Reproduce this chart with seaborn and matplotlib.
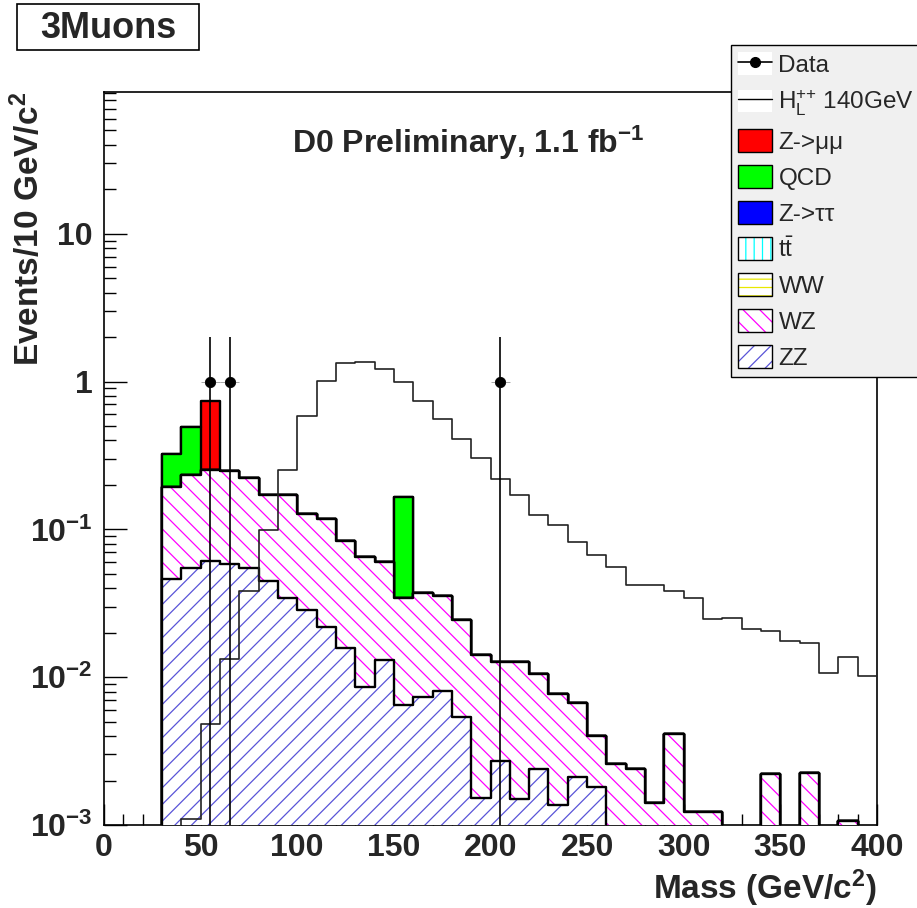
import numpy as np
import pandas as pd
import matplotlib
matplotlib.use("Agg")
import matplotlib.pyplot as plt
import seaborn as sns
from matplotlib.patches import Patch, Rectangle
from matplotlib.lines import Line2D

# ---------------- data (10 GeV bins, 0-400 GeV) ----------------
bin_edges = list(range(0, 410, 10))
bin_centers = [e + 5 for e in bin_edges[:-1]]

zz = [0, 0, 0, 0.0464, 0.0545, 0.061, 0.058, 0.0548, 0.0448, 0.0345,
      0.0285, 0.022, 0.0157, 0.0086, 0.013, 0.0065, 0.00736, 0.0081, 0.00542, 0.00152,
      0.0027, 0.0015, 0.00239, 0.00136, 0.00212, 0.0018, 0, 0, 0, 0,
      0, 0, 0, 0, 0, 0, 0, 0, 0, 0]
wz = [0, 0, 0, 0.148, 0.18, 0.191, 0.19, 0.167, 0.126, 0.137,
      0.0995, 0.095, 0.0677, 0.0568, 0.0475, 0.028, 0.0299, 0.0273, 0.019, 0.0126,
      0.0099, 0.0111, 0.0081, 0.0063, 0.0046, 0.0022, 0.00258, 0.00239, 0.00141, 0.00412,
      0.00122, 0.00122, 0, 0, 0.00221, 0, 0.00224, 0, 0.00107, 0]
ww = [0] * 40
ttbar = [0] * 40
ztautau = [0] * 40
qcd = [0, 0, 0, 0.131, 0.257, 0, 0, 0, 0, 0,
       0, 0, 0, 0, 0, 0.13, 0, 0, 0, 0,
       0, 0, 0, 0, 0, 0, 0, 0, 0, 0,
       0, 0, 0, 0, 0, 0, 0, 0, 0, 0]
zmumu = [0, 0, 0, 0, 0, 0.488, 0, 0, 0, 0,
         0, 0, 0, 0, 0, 0, 0, 0, 0, 0,
         0, 0, 0, 0, 0, 0, 0, 0, 0, 0,
         0, 0, 0, 0, 0, 0, 0, 0, 0, 0]
signal = [0, 0, 0, 0, 0.0011, 0.00486, 0.0132, 0.0381, 0.0985, 0.254,
          0.589, 1.01, 1.34, 1.36, 1.22, 1.00, 0.736, 0.554, 0.406, 0.302,
          0.218, 0.171, 0.126, 0.107, 0.082, 0.067, 0.0553, 0.0418, 0.0418, 0.0385,
          0.0343, 0.0247, 0.0253, 0.0211, 0.0205, 0.0177, 0.0171, 0.0106, 0.0137, 0.0102]

data_x = [55, 65, 205]
data_y = [1, 1, 1]
data_err_low = [1, 1, 1]
data_err_high = [1, 1, 1]

xtick_values = [0, 50, 100, 150, 200, 250, 300, 350, 400]
ytick_values = [1e-3, 1e-2, 1e-1, 1, 10]
ytick_labels = [r"$\mathbf{10^{-3}}$", r"$\mathbf{10^{-2}}$", r"$\mathbf{10^{-1}}$", "1", "10"]

legend_labels = ["Data", r"H$_{\rm L}^{{+}{+}}$ 140GeV", "Z->\u03bc\u03bc", "QCD", "Z->\u03c4\u03c4",
                 r"$\mathrm{t\bar{t}}$", "WW", "WZ", "ZZ"]

# ---------------- style ----------------
sns.set_theme(style="ticks")
plt.rcParams["font.family"] = ["Liberation Sans", "DejaVu Sans"]
plt.rcParams["mathtext.fontset"] = "custom"
plt.rcParams["mathtext.rm"] = "Liberation Sans"
plt.rcParams["mathtext.bf"] = "Liberation Sans:bold"
plt.rcParams["mathtext.it"] = "Liberation Sans:italic"
plt.rcParams["hatch.linewidth"] = 0.9
plt.rcParams["axes.unicode_minus"] = True

fig = plt.figure(figsize=(9.17, 9.08), dpi=100)
fig.patch.set_facecolor("white")
L, R, T, B = 104, 877, 92, 825
ax = fig.add_axes([L / 917, 1 - B / 908, (R - L) / 917, (B - T) / 908])
ax.set_facecolor("white")
ax.set_yscale("log")

# stacking order bottom -> top
components = [
    (zz, "white", "//", "#5954d8"),
    (wz, "white", "\\\\", "#ff00ff"),
    (ww, "white", "--", "#e8e800"),
    (ttbar, "white", "||", "#00ffff"),
    (ztautau, "#0000ff", None, "none"),
    (qcd, "#00ff00", None, "none"),
    (zmumu, "#ff0000", None, "none"),
]
cum = np.cumsum(np.array([c[0] for c in components], dtype=float), axis=0)

z = 2
for i in range(len(components) - 1, -1, -1):
    _, fc, hatch, hc = components[i]
    df = pd.DataFrame({"mass": bin_centers, "w": cum[i]})
    sns.histplot(data=df, x="mass", weights="w", bins=bin_edges, element="step",
                 fill=True, alpha=1, facecolor=fc, edgecolor=hc, linewidth=0,
                 hatch=hatch, zorder=z, ax=ax)
    sns.histplot(data=df, x="mass", weights="w", bins=bin_edges, element="step",
                 fill=False, color="black", linewidth=1.7, zorder=z + 0.5, ax=ax)
    z += 1

# signal
sig_df = pd.DataFrame({"mass": bin_centers, "w": signal})
sns.histplot(data=sig_df, x="mass", weights="w", bins=bin_edges, element="step",
             fill=False, color="#222222", linewidth=1.2, zorder=z + 1, ax=ax)

# data
ax.errorbar(data_x, data_y, yerr=[data_err_low, data_err_high], fmt="none",
            ecolor="black", elinewidth=1.2, zorder=z + 2)
ax.errorbar(data_x, data_y, xerr=5, fmt="none", ecolor="#999999", elinewidth=0.6, zorder=z + 2)
sns.scatterplot(x=data_x, y=data_y, color="black", s=55, marker="o", edgecolor="black",
                zorder=z + 3, ax=ax, legend=False)

# axes
ax.set_xlim(0, 400)
ax.set_ylim(1e-3, 91)
ax.set_xticks(xtick_values, [str(v) for v in xtick_values], fontsize=23, fontweight="bold")
ax.set_xticks(list(range(0, 401, 10)), minor=True)
ax.set_yticks(ytick_values, ytick_labels, fontsize=23, fontweight="bold")
minor_y = [m * 10.0 ** e for e in range(-3, 2) for m in range(2, 10) if m * 10.0 ** e < 91]
ax.set_yticks(minor_y, minor=True)
ax.yaxis.set_minor_formatter(matplotlib.ticker.NullFormatter())
ax.tick_params(axis="x", which="major", direction="in", length=15, width=1, pad=6,
               top=False, color="black")
ax.tick_params(axis="x", which="minor", direction="in", length=8, width=1, top=False, color="black")
ax.tick_params(axis="y", which="major", direction="in", length=16.5, width=1, pad=8,
               right=False, color="black")
ax.tick_params(axis="y", which="minor", direction="in", length=8.5, width=1, right=False, color="black")
for sp in ax.spines.values():
    sp.set_visible(True)
    sp.set_color("black")
    sp.set_linewidth(1.2)

ax.set_xlabel(r"Mass (GeV/c$^{\mathbf{2}}$)", fontsize=24, fontweight="bold", loc="right")
ax.set_ylabel(r"Events/10 GeV/c$^{\mathbf{2}}$", fontsize=24, fontweight="bold", loc="top")
ax.xaxis.set_label_coords(1.0, -0.058)
ax.yaxis.set_label_coords(-0.075, 1.0)

# legend
handles = [
    (Patch(facecolor="white", edgecolor="none"),
     Line2D([], [], color="black", lw=1.2, marker="o", markersize=7)),
    (Patch(facecolor="white", edgecolor="none"), Line2D([], [], color="black", lw=1.0)),
    Patch(facecolor="#ff0000", edgecolor="black", lw=1),
    Patch(facecolor="#00ff00", edgecolor="black", lw=1),
    Patch(facecolor="#0000ff", edgecolor="black", lw=1),
    (Patch(facecolor="white", edgecolor="#00ffff", hatch="||", lw=0),
     Patch(facecolor="none", edgecolor="black", lw=1)),
    (Patch(facecolor="white", edgecolor="#e8e800", hatch="--", lw=0),
     Patch(facecolor="none", edgecolor="black", lw=1)),
    (Patch(facecolor="white", edgecolor="#ff00ff", hatch="\\\\", lw=0),
     Patch(facecolor="none", edgecolor="black", lw=1)),
    (Patch(facecolor="white", edgecolor="#5954d8", hatch="//", lw=0),
     Patch(facecolor="none", edgecolor="black", lw=1)),
]
leg = fig.legend(handles, legend_labels, loc="upper left",
                 bbox_to_anchor=(731 / 917, 1 - 45 / 908), bbox_transform=fig.transFigure,
                 frameon=True, fancybox=False, framealpha=1, facecolor="#f0f0f0",
                 edgecolor="black", fontsize=17.5, handlelength=1.4, handleheight=1.05,
                 labelspacing=0.47, handletextpad=0.25, borderpad=0.3, borderaxespad=0)
leg.get_frame().set_linewidth(1.0)
leg.set_zorder(20)

# texts
fig.patches.append(Rectangle((17 / 917, 1 - 50 / 908), 182 / 917, 46 / 908,
                             transform=fig.transFigure, fill=False, edgecolor="black", lw=1.2))
fig.text(108 / 917, 1 - 28 / 908, "3Muons", fontsize=26, fontweight="bold",
         ha="center", va="center")
fig.text(291.7 / 917, 1 - 152.7 / 908, r"D0 Preliminary, 1.1 fb$^{\mathbf{-1}}$",
         fontsize=23, fontweight="bold", ha="left", va="baseline")

fig.savefig("out.png", dpi=100, facecolor="white")
